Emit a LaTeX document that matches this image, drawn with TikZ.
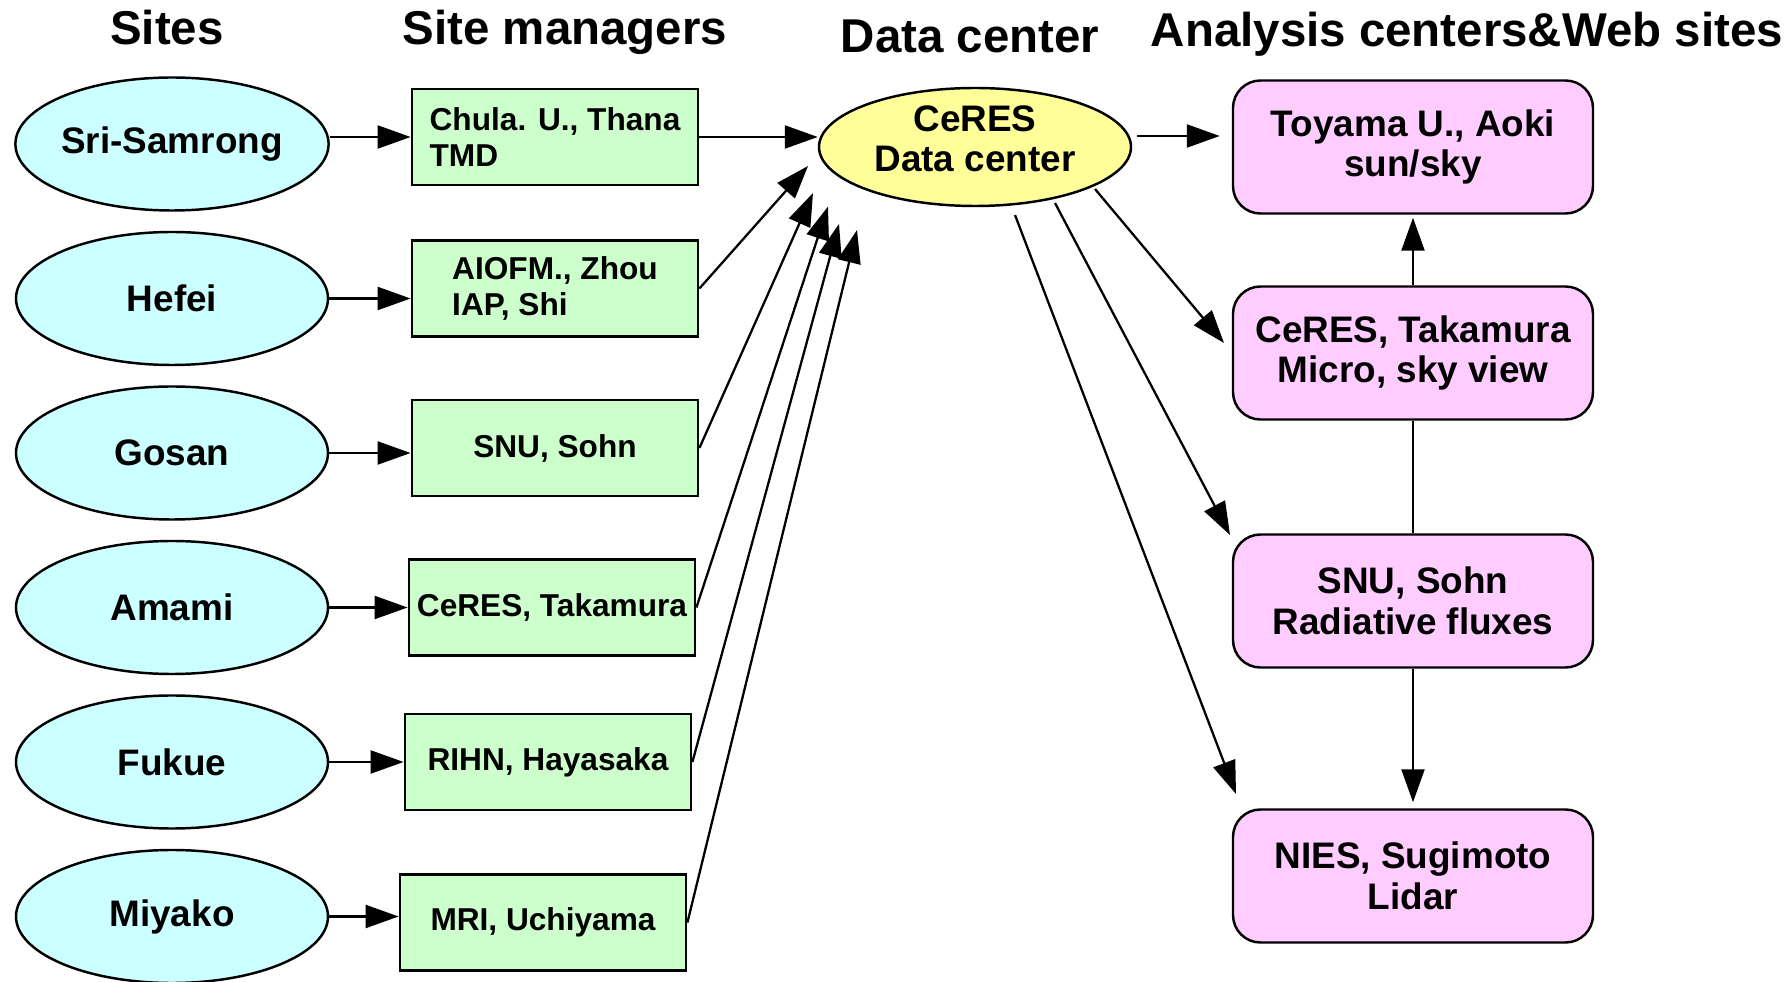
\documentclass[tikz,border=0pt]{standalone}
\usepackage{fontspec}
\setmainfont{Liberation Sans}
\usetikzlibrary{positioning,shapes.geometric,arrows.meta}

\definecolor{sitecyan}{HTML}{CCFFFF}
\definecolor{mgrgreen}{HTML}{CCFFCC}
\definecolor{dcyellow}{HTML}{FFFF99}
\definecolor{anapink}{HTML}{FFCCFF}

\begin{document}
\begin{tikzpicture}[node distance=3.09cm and 7.66cm, on grid, line width=1.3pt,
    site/.style={ellipse, draw, fill=sitecyan, line width=1.4pt, minimum width=6.24cm,
        minimum height=2.66cm, inner sep=0pt, font=\fontsize{21}{23}\selectfont\bfseries},
    manager/.style={rectangle, draw, fill=mgrgreen, line width=1.6pt, minimum width=5.72cm,
        minimum height=1.92cm, inner sep=0pt, font=\fontsize{18}{21}\selectfont\bfseries},
    datacenter/.style={ellipse, draw, fill=dcyellow, line width=1.4pt, minimum width=6.24cm,
        minimum height=2.36cm, inner sep=0pt, align=center, font=\fontsize{21}{23}\selectfont\bfseries},
    analysis/.style={rectangle, rounded corners=0.55cm, draw, fill=anapink, line width=1.4pt,
        minimum width=7.2cm, minimum height=2.66cm, inner sep=0pt, align=center,
        font=\fontsize{21}{23}\selectfont\bfseries},
    title/.style={anchor=base, inner sep=0pt, font=\fontsize{27}{30}\selectfont\bfseries},
    arr/.style={-{Triangle[length=0.66cm, width=0.46cm]}}]

    \useasboundingbox (0,0) rectangle (35.72,-19.64);

    % Titles
    \node[title] (tsites) at (3.34,-0.9) {Sites};
    \node[title] (tmanagers) at (11.3,-0.9) {Site managers};
    \node[title] (tdata) at (19.4,-1.06) {Data center};
    \node[title, anchor=base east] (tanalysis) at (35.68,-0.94) {Analysis centers\&Web sites};

    % Sites
    \node[site] (s1) at (3.44,-2.88) {Sri-Samrong};
    \node[site] (s2) [below=of s1] {Hefei};
    \node[site] (s3) [below=of s2] {Gosan};
    \node[site] (s4) [below=of s3] {Amami};
    \node[site] (s5) [below=of s4] {Fukue};
    \node[site] (s6) [below=of s5] {Miyako};

    % Site managers
    \node[manager, align=left] (m1) [right=of s1, yshift=0.14cm] {Chula. U., Thana\\TMD};
    \node[manager, align=left] (m2) [right=of s2, yshift=0.2cm] {AIOFM., Zhou\\IAP, Shi};
    \node[manager] (m3) [right=of s3, yshift=0.1cm] {SNU, Sohn};
    \node[manager] (m4) [right=7.6cm of s4] {CeRES, Takamura};
    \node[manager] (m5) [right=7.52cm of s5] {RIHN, Hayasaka};
    \node[manager] (m6) [right=7.42cm of s6, yshift=-0.12cm] {MRI, Uchiyama};

    % Data center
    \node[datacenter, text height=1.16cm, text depth=0.18cm] (dc) [right=8.4cm of m1, yshift=-0.2cm] {CeRES\\Data center};

    % Analysis centers
    \node[analysis] (p1) [right=8.76cm of dc] {Toyama U., Aoki\\sun/sky};
    \node[analysis] (p2) [below=4.12cm of p1] {CeRES, Takamura\\Micro, sky view};
    \node[analysis] (p3) [below=4.96cm of p2] {SNU, Sohn\\Radiative fluxes};
    \node[analysis] (p4) [below=5.5cm of p3] {NIES, Sugimoto\\Lidar};

    % Free ends
    \coordinate (c2) at (16.16,-3.32);
    \coordinate (c3) at (16.26,-3.86);
    \coordinate (c4) at (16.56,-4.13);
    \coordinate (c5) at (16.78,-4.48);
    \coordinate (c6) at (17.14,-4.60);
    \coordinate (d2) at (21.90,-3.78);
    \coordinate (e2) at (24.48,-6.86);
    \coordinate (d3) at (21.10,-4.06);
    \coordinate (e3) at (24.60,-10.70);
    \coordinate (d4) at (20.30,-4.30);
    \coordinate (e4) at (24.72,-15.88);

    % Sites to managers
    \draw[arr] (s1.east |- m1) -- (m1);
    \draw[arr] (s2) -- (s2 -| m2.west);
    \draw[arr] (s3) -- (s3 -| m3.west);
    \draw[arr] (s4) -- (m4);
    \draw[arr] (s5) -- (m5);
    \draw[arr] (s6) -- (s6 -| m6.west);

    % Managers to data center
    \draw[arr] (m1) -- (m1 -| dc.west);
    \draw[arr] (m2.east) -- (c2);
    \draw[arr] (m3.east) -- (c3);
    \draw[arr] (m4.east) -- (c4);
    \draw[arr] (m5.east) -- (c5);
    \draw[arr] (m6.east) -- (c6);

    % Data center to analysis centers
    \draw[arr, shorten <=0.1cm, shorten >=0.24cm] ([yshift=0.22cm]dc.east) -- ([yshift=0.22cm]dc.east -| p1.west);
    \draw[arr] (d2) -- (e2);
    \draw[arr] (d3) -- (e3);
    \draw[arr] (d4) -- (e4);

    % Between analysis centers
    \draw[arr, shorten >=0.06cm] (p2) -- (p1);
    \draw (p2) -- (p3);
    \draw[arr, shorten >=0.12cm] (p3) -- (p4);

\end{tikzpicture}
\end{document}
